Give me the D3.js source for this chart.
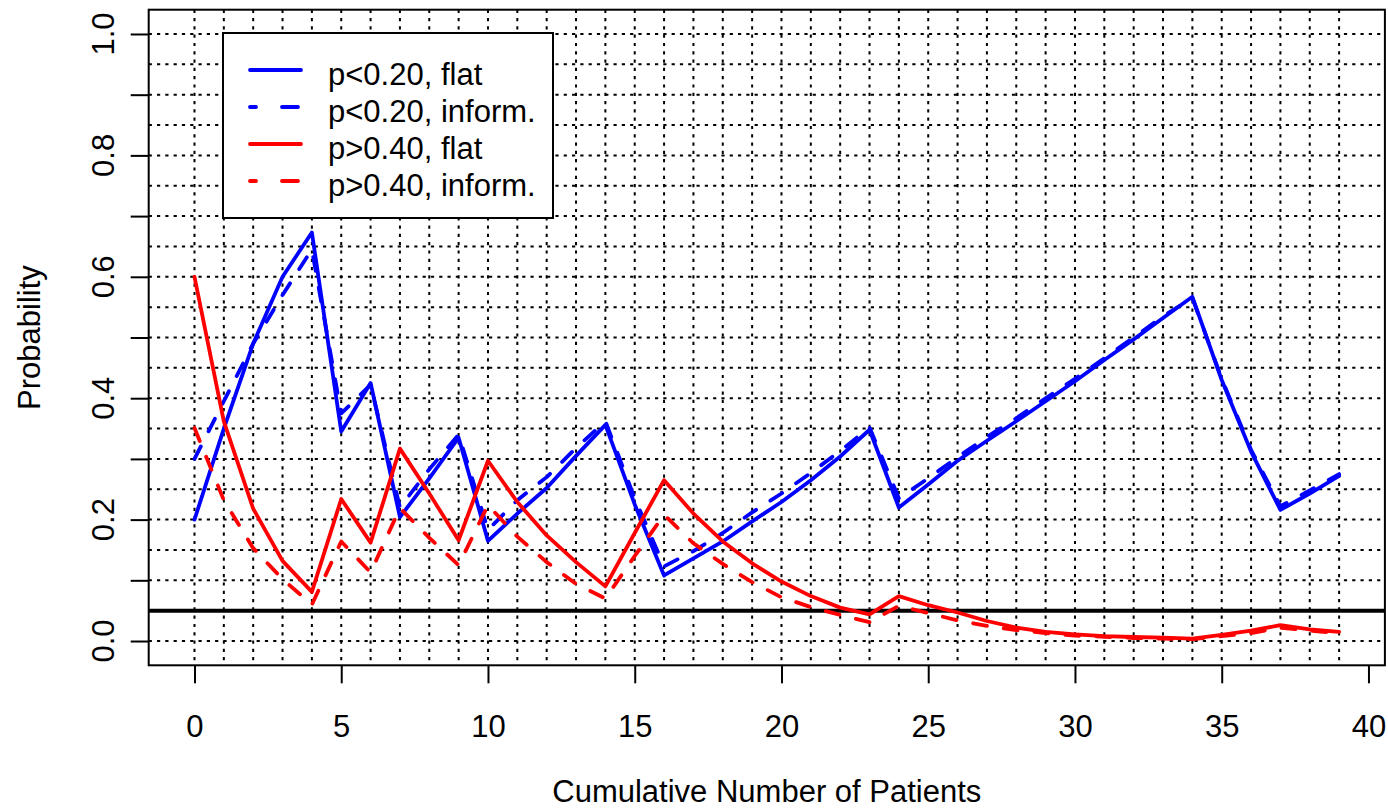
<!DOCTYPE html>
<html>
<head>
<meta charset="utf-8">
<script src="https://cdn.jsdelivr.net/npm/d3@7"></script>
<style>
  html, body { margin: 0; padding: 0; background: #fff; }
  svg text { font-family: "Liberation Sans", Arial, sans-serif; fill: #000; }
</style>
</head>
<body>
<svg id="chart" width="1388" height="812"></svg>
<script>
// ---- data ----
const patients = d3.range(0, 40);
const blueFlat = [0.20,0.35,0.49,0.60,0.673,0.345,0.425,0.204,0.268,0.335,
  0.165,0.21,0.252,0.305,0.356,0.225,0.108,0.136,0.164,0.197,
  0.229,0.265,0.304,0.348,0.22,0.258,0.297,0.33,0.362,0.395,
  0.428,0.463,0.497,0.532,0.567,0.43,0.312,0.216,0.243,0.272];
const blueInform = [0.30,0.395,0.49,0.57,0.645,0.375,0.422,0.22,0.283,0.34,
  0.183,0.232,0.27,0.318,0.362,0.235,0.123,0.148,0.178,0.212,
  0.243,0.277,0.313,0.352,0.235,0.268,0.303,0.336,0.367,0.40,
  0.432,0.466,0.50,0.535,0.565,0.432,0.315,0.222,0.248,0.275];
const redFlat = [0.60,0.362,0.218,0.132,0.081,0.234,0.162,0.317,0.243,0.166,
  0.297,0.229,0.174,0.13,0.09,0.178,0.265,0.21,0.164,0.128,
  0.098,0.074,0.055,0.044,0.074,0.059,0.047,0.033,0.022,0.015,
  0.011,0.008,0.0066,0.0055,0.004,0.01,0.017,0.026,0.019,0.015];
const redInform = [0.351,0.232,0.153,0.102,0.06,0.164,0.113,0.219,0.17,0.125,
  0.224,0.172,0.13,0.094,0.07,0.14,0.208,0.161,0.127,0.097,
  0.072,0.056,0.043,0.031,0.058,0.046,0.034,0.025,0.018,0.013,
  0.009,0.007,0.005,0.004,0.003,0.008,0.013,0.022,0.017,0.013];
const xTicks = [0,5,10,15,20,25,30,35,40];
const yTicks = [0,0.1,0.2,0.3,0.4,0.5,0.6,0.7,0.8,0.9,1.0];
const yLabels = [0,0.2,0.4,0.6,0.8,1.0];
const xGrid = d3.range(0, 40);
const yGrid = d3.range(0, 21).map(i => i * 0.05);
const threshold = 0.05;
const legendLabels = ["p<0.20, flat","p<0.20, inform.","p>0.40, flat","p>0.40, inform."];
const legendColors = ["#0000ff","#0000ff","#ff0000","#ff0000"];
const legendDashed = [false,true,false,true];

// ---- layout ----
const svg = d3.select("#chart");
const x = d3.scaleLinear().domain([-1.56, 40.56]).range([148.7, 1384.9]);
const y = d3.scaleLinear().domain([-0.04, 1.04]).range([665.3, 9.7]);
const X0 = x.range()[0], X1 = x.range()[1], Y0 = y.range()[1], Y1 = y.range()[0];
const fs = 31;
const lw = 3.8;
const dash = "14,17";

svg.append("defs").append("clipPath").attr("id","clip")
  .append("rect").attr("x",X0).attr("y",Y0).attr("width",X1-X0).attr("height",Y1-Y0);

// grid
const grid = svg.append("g").attr("stroke","#000").attr("stroke-width",2).attr("stroke-dasharray","3.2,5.1");
grid.selectAll(".gv").data(xGrid).join("line")
  .attr("x1",d=>x(d)).attr("x2",d=>x(d)).attr("y1",Y0).attr("y2",Y1);
grid.selectAll(".gh").data(yGrid).join("line")
  .attr("x1",X0).attr("x2",X1).attr("y1",d=>y(d)).attr("y2",d=>y(d));

// threshold line
svg.append("line").attr("x1",X0).attr("x2",X1).attr("y1",y(threshold)).attr("y2",y(threshold))
  .attr("stroke","#000").attr("stroke-width",4);

// series
const line = d3.line().x((d,i)=>x(patients[i])).y(d=>y(d));
const series = [
  {v: blueFlat, c: "#0000ff", d: false},
  {v: blueInform, c: "#0000ff", d: true},
  {v: redFlat, c: "#ff0000", d: false},
  {v: redInform, c: "#ff0000", d: true}
];
const gs = svg.append("g").attr("clip-path","url(#clip)");
series.forEach(s => {
  gs.append("path").attr("d", line(s.v)).attr("fill","none")
    .attr("stroke", s.c).attr("stroke-width", lw)
    .attr("stroke-linejoin","round").attr("stroke-linecap","round")
    .attr("stroke-dasharray", s.d ? dash : null);
});

// box
svg.append("rect").attr("x",X0).attr("y",Y0).attr("width",X1-X0).attr("height",Y1-Y0)
  .attr("fill","none").attr("stroke","#000").attr("stroke-width",2);

// x axis
const xAxis = d3.axisBottom(x).tickValues(xTicks).tickSize(18).tickPadding(34).tickFormat(d3.format("d"));
const gx = svg.append("g").attr("transform",`translate(0,${Y1})`).call(xAxis);
gx.select(".domain").remove();
gx.selectAll(".tick line").attr("stroke","#000").attr("stroke-width",2);
gx.selectAll(".tick text").attr("font-size",fs).attr("dy",null).attr("y",72)
  .style("font-family","Liberation Sans, Arial, sans-serif");

// y axis
const yAxis = d3.axisLeft(y).tickValues(yTicks).tickSize(18).tickFormat(()=> "");
const gy = svg.append("g").attr("transform",`translate(${X0},0)`).call(yAxis);
gy.select(".domain").remove();
gy.selectAll(".tick line").attr("stroke","#000").attr("stroke-width",2);
svg.append("g").selectAll("text").data(yLabels).join("text")
  .attr("transform", d=>`translate(114,${y(d)}) rotate(-90)`)
  .attr("text-anchor","middle").attr("font-size",fs)
  .text(d=>d3.format(".1f")(d));

// axis titles
svg.append("text").attr("x",(X0+X1)/2).attr("y",802).attr("text-anchor","middle")
  .attr("font-size",fs).text("Cumulative Number of Patients");
svg.append("text").attr("transform",`translate(40,${(Y0+Y1)/2}) rotate(-90)`)
  .attr("text-anchor","middle").attr("font-size",fs).text("Probability");

// legend
const lg = svg.append("g");
lg.append("rect").attr("x",223).attr("y",33).attr("width",330).attr("height",185)
  .attr("fill","#fff").attr("stroke","#000").attr("stroke-width",2);
legendLabels.forEach((lab,i) => {
  const ry = 70 + i*37;
  lg.append("line").attr("x1",250).attr("x2",301).attr("y1",ry).attr("y2",ry)
    .attr("stroke",legendColors[i]).attr("stroke-width",lw).attr("stroke-linecap","round")
    .attr("stroke-dasharray", legendDashed[i] ? "16,26" : null)
    .attr("stroke-dashoffset", legendDashed[i] ? 10 : null);
  lg.append("text").attr("x",328).attr("y",ry+15).attr("font-size",fs).text(lab);
});
</script>
</body>
</html>
